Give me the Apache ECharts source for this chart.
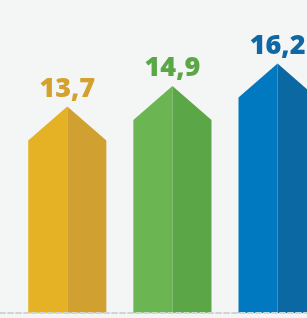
<!DOCTYPE html>
<html>
<head>
<meta charset="utf-8">
<script src="https://cdn.jsdelivr.net/npm/echarts@6/dist/echarts.min.js"></script>
<style>
  html, body { margin: 0; padding: 0; background: #f4f5f5; }
  #chart { width: 307px; height: 318px; }
</style>
</head>
<body>
<div id="chart"></div>
<script>
(function () {
  "use strict";

  var categories = ["A", "B", "C"];
  var values = [13.7, 14.9, 16.2];
  var labels = ["13,7", "14,9", "16,2"];
  var lightColors = ["#e4b224", "#6bb552", "#0079c1"];
  var darkColors = ["#d0a030", "#5ba646", "#0c68a3"];
  var textColors = ["#d4a12e", "#5ba646", "#0f67a5"];

  var Y_MIN = 1.7;
  var Y_MAX = 19.2;
  // the last bar runs off the right edge, so the index axis is cropped
  var X_MIN = -0.64;
  var X_MAX = 2.28;

  var chart = echarts.init(document.getElementById("chart"));

  // arrow-shaped bar: two halves, pointed top at the value
  function renderArrow(params, api) {
    var i = api.value(0);
    var top = api.coord([i, api.value(1)]);
    var base = api.coord([i, Y_MIN]);
    var half = api.size([1, 0])[0] * 0.743 / 2;
    var shoulder = top[1] + half * 0.87;
    var cx = top[0];
    return {
      type: "group",
      children: [
        {
          type: "polygon",
          shape: { points: [[cx - half, base[1]], [cx - half, shoulder], [cx, top[1]], [cx, base[1]]] },
          style: { fill: lightColors[i] }
        },
        {
          type: "polygon",
          shape: { points: [[cx, base[1]], [cx, top[1]], [cx + half, shoulder], [cx + half, base[1]]] },
          style: { fill: darkColors[i] }
        },
        {
          type: "text",
          x: cx,
          y: top[1] - 4,
          style: {
            text: labels[i],
            fill: textColors[i],
            font: "800 27px 'Open Sans', sans-serif",
            align: "center",
            verticalAlign: "bottom"
          }
        }
      ]
    };
  }

  chart.setOption({
    backgroundColor: "#f4f5f5",
    animation: false,
    grid: { left: 0, right: 0, top: 12, bottom: 5 },
    xAxis: {
      type: "value",
      min: X_MIN,
      max: X_MAX,
      z: 10,
      axisLine: { show: true, lineStyle: { color: "#d2d4d4", width: 2, type: [5, 3] } },
      axisTick: { show: false },
      axisLabel: { show: false },
      splitLine: { show: false }
    },
    yAxis: {
      type: "value",
      min: Y_MIN,
      max: Y_MAX,
      show: false,
      splitLine: { show: false }
    },
    series: [{
      type: "custom",
      name: "values",
      renderItem: renderArrow,
      clip: false,
      data: categories.map(function (c, i) { return [i, values[i]]; })
    }]
  });
})();
</script>
</body>
</html>
